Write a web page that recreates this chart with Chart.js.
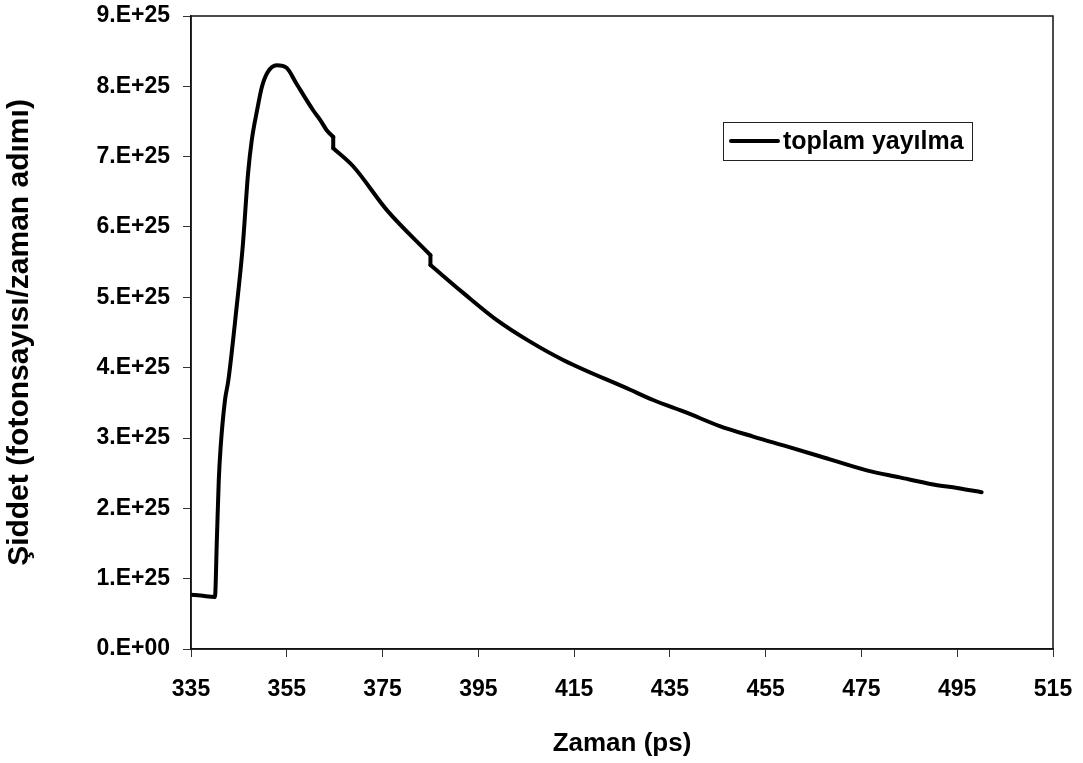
<!DOCTYPE html>
<html>
<head>
<meta charset="utf-8">
<title>toplam yayılma</title>
<script src="https://cdn.jsdelivr.net/npm/chart.js@4.4.1/dist/chart.umd.min.js"></script>
<style>
  html, body { margin: 0; padding: 0; background: #fff; }
  #wrap { width: 1083px; height: 763px; }
</style>
</head>
<body>
<div id="wrap"><canvas id="emission-chart" width="1083" height="763"></canvas></div>
<script>
// Time axis (ps) and intensity in units of 1e25 photons per time step.
// A repeated time marks a small step where two simulation segments meet.
const timePs = [
  335, 337, 340.0, 340.4, 340.8, 341.2, 342.1, 342.8, 344.4, 345.8,
  346.9, 347.7, 348.8, 349.8, 351.0, 352.9, 355.0, 357.0, 360.5, 362.0,
  363.3, 364.7, 364.7, 368.9, 375.9, 385.0, 385.0, 391.9, 398.8, 405.8,
  412.7, 426.6, 431.5, 438.5, 445.4, 452.4, 459.4, 466.3, 476.1, 483.0,
  490.0, 495.0, 500.1
];
const intensity = [
  0.77, 0.76, 0.74, 1.55, 2.40, 2.88, 3.54, 3.82, 4.78, 5.72,
  6.75, 7.24, 7.66, 7.99, 8.20, 8.30, 8.26, 8.04, 7.66, 7.52,
  7.38, 7.28, 7.12, 6.86, 6.24, 5.60, 5.46, 5.06, 4.68, 4.37,
  4.11, 3.69, 3.54, 3.36, 3.17, 3.02, 2.88, 2.74, 2.54, 2.44,
  2.34, 2.29, 2.23
];
const UNIT = 1e25;
const xTicks = [335, 355, 375, 395, 415, 435, 455, 475, 495, 515];
const yTicks = [0, 1, 2, 3, 4, 5, 6, 7, 8, 9];
const seriesLabel = 'toplam yayılma';

const FONT = '"Liberation Sans", Arial, sans-serif';
const LINE_COLOR = '#000';
const LINE_WIDTH = 4;

// Split the series into smooth pieces at the repeated times,
// and keep each vertical step between them as a straight join
const points = timePs.map((t, i) => ({ x: t, y: intensity[i] * UNIT }));
const pieces = [[]];
const steps = [];
points.forEach((p, i) => {
  if (i > 0 && timePs[i] === timePs[i - 1]) {
    steps.push([points[i - 1], p]);
    pieces.push([]);
  }
  pieces[pieces.length - 1].push(p);
});

const lineStyle = {
  label: seriesLabel,
  borderColor: LINE_COLOR,
  borderWidth: LINE_WIDTH,
  borderCapStyle: 'round',
  borderJoinStyle: 'round',
  pointRadius: 0,
  fill: false
};

const datasets = [
  ...pieces.map(data => ({ ...lineStyle, data, cubicInterpolationMode: 'monotone' })),
  ...steps.map(data => ({ ...lineStyle, data, tension: 0 }))
];

// Frame round the plot area (top and right sides included)
const framePlugin = {
  id: 'frame',
  afterDraw(chart) {
    const { ctx, chartArea: a } = chart;
    ctx.save();
    ctx.strokeStyle = '#111';
    ctx.lineWidth = 1.5;
    ctx.strokeRect(a.left, a.top, a.right - a.left, a.bottom - a.top);
    ctx.restore();
  }
};

// Boxed legend inside the plot, upper right
const boxLegend = {
  id: 'boxLegend',
  afterDraw(chart) {
    const ctx = chart.ctx;
    ctx.save();
    ctx.fillStyle = '#fff';
    ctx.fillRect(723, 122, 249, 38);
    ctx.strokeStyle = '#222';
    ctx.lineWidth = 1;
    ctx.strokeRect(723.5, 122.5, 249, 38);
    ctx.strokeStyle = LINE_COLOR;
    ctx.lineWidth = LINE_WIDTH;
    ctx.lineCap = 'round';
    ctx.beginPath();
    ctx.moveTo(731, 141);
    ctx.lineTo(778, 141);
    ctx.stroke();
    ctx.fillStyle = '#000';
    ctx.font = 'bold 25px ' + FONT;
    ctx.textBaseline = 'middle';
    ctx.fillText(seriesLabel, 783, 142);
    ctx.restore();
  }
};

const tickFont = { family: FONT, size: 23, weight: 'bold' };
const titleFont = { family: FONT, size: 26, weight: 'bold' };

new Chart(document.getElementById('emission-chart'), {
  type: 'line',
  data: { datasets },
  options: {
    responsive: false,
    animation: false,
    layout: { padding: { top: 16, right: 30, left: 0, bottom: 0 } },
    plugins: {
      legend: { display: false },
      tooltip: { enabled: false }
    },
    scales: {
      x: {
        type: 'linear',
        min: 335,
        max: 515,
        afterFit(scale) {
          scale.height = 114;
          scale.paddingLeft = 0;
          scale.paddingRight = 0;
        },
        afterBuildTicks(scale) { scale.ticks = xTicks.map(v => ({ value: v })); },
        ticks: {
          color: '#000',
          font: tickFont,
          padding: 19,
          maxRotation: 0,
          callback: v => String(v)
        },
        grid: {
          drawOnChartArea: false,
          drawTicks: true,
          tickLength: 8,
          color: '#333'
        },
        border: { color: '#111', width: 1.5 },
        title: {
          display: true,
          text: 'Zaman (ps)',
          color: '#000',
          font: titleFont,
          padding: { top: 0, bottom: 4 }
        }
      },
      y: {
        type: 'linear',
        min: 0,
        max: 9 * UNIT,
        afterFit(scale) {
          scale.width = 191;
          scale.paddingTop = 0;
          scale.paddingBottom = 0;
        },
        afterBuildTicks(scale) { scale.ticks = yTicks.map(v => ({ value: v * UNIT })); },
        ticks: {
          color: '#000',
          font: tickFont,
          padding: 13,
          callback: v => {
            const n = Math.round(v / UNIT);
            return n === 0 ? '0.E+00' : n + '.E+25';
          }
        },
        grid: {
          drawOnChartArea: false,
          drawTicks: true,
          tickLength: 8,
          color: '#333'
        },
        border: { color: '#111', width: 1.5 },
        title: {
          display: true,
          text: 'Şiddet (fotonsayısı/zaman adımı)',
          color: '#000',
          font: { family: FONT, size: 30, weight: 'bold' },
          padding: { top: 2, bottom: 0 }
        }
      }
    }
  },
  plugins: [framePlugin, boxLegend]
});
</script>
</body>
</html>
